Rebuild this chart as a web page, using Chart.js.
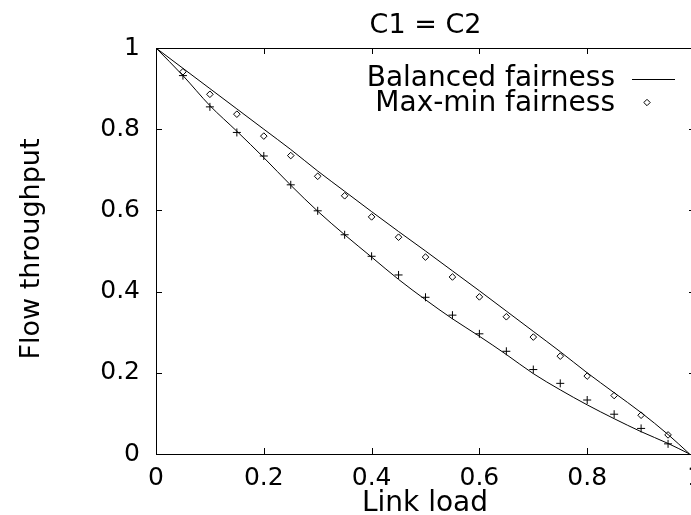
<!DOCTYPE html>
<html><head><meta charset="utf-8">
<script src="https://cdn.jsdelivr.net/npm/chart.js@4/dist/chart.umd.min.js"></script>
<style>html,body{margin:0;padding:0;overflow:hidden;background:#fff;width:691px;height:515px}canvas{display:block}</style>
</head><body>
<canvas id="c" width="700" height="515" style="width:700px;height:515px"></canvas>
<script>
// Link load values for the curves
const lineLoad = [0,0.05,0.1,0.15,0.2,0.25,0.3,0.35,0.4,0.45,0.5,0.55,0.6,0.65,0.7,0.75,0.8,0.85,0.9,0.95,0.99];
// Balanced fairness (upper curve)
const balancedUpper = [1,0.95,0.9,0.85,0.8,0.75,0.697,0.647,0.597,0.548,0.5,0.451,0.402,0.352,0.302,0.252,0.2,0.151,0.102,0.048,0];
// Balanced fairness (lower curve)
const balancedLower = [1,0.932,0.858,0.795,0.73,0.662,0.598,0.54,0.485,0.43,0.38,0.333,0.29,0.245,0.198,0.158,0.121,0.087,0.055,0.026,0];
// Link load values for the markers
const pointLoad = [0.05,0.1,0.15,0.2,0.25,0.3,0.35,0.4,0.45,0.5,0.55,0.6,0.65,0.7,0.75,0.8,0.85,0.9,0.95];
// Max-min fairness (diamonds)
const maxMinUpper = [0.9415,0.886,0.837,0.783,0.735,0.684,0.636,0.584,0.534,0.485,0.436,0.387,0.338,0.288,0.241,0.192,0.144,0.0955,0.047];
// Max-min fairness (plus markers)
const maxMinLower = [0.932,0.855,0.792,0.734,0.663,0.599,0.540,0.487,0.441,0.386,0.342,0.296,0.253,0.208,0.174,0.133,0.098,0.063,0.025];
const xTicks = [0,0.2,0.4,0.6,0.8,1];
const yTicks = [0,0.2,0.4,0.6,0.8,1];
const titleText = 'C1 = C2';
const xTitle = 'Link load';
const yTitle = 'Flow throughput';
const legendLabels = ['Balanced fairness','Max-min fairness'];

const pts = (xs, ys) => xs.map((x,i)=>({x:x,y:ys[i]}));
const FONT = "'DejaVu Sans', sans-serif";

const decor = {
  id:'decor',
  afterDraw(chart){
    const {ctx, chartArea:a, scales:{x:xs,y:ys}} = chart;
    ctx.save();
    ctx.strokeStyle='#000'; ctx.lineWidth=1;
    ctx.strokeRect(a.left+0.5, a.top+0.5, a.right-a.left, a.bottom-a.top);
    ctx.beginPath();
    xTicks.forEach(v=>{const p=Math.round(xs.getPixelForValue(v))+0.5;
      ctx.moveTo(p,a.bottom); ctx.lineTo(p,a.bottom-6);
      ctx.moveTo(p,a.top); ctx.lineTo(p,a.top+6);});
    yTicks.forEach(v=>{const p=Math.round(ys.getPixelForValue(v))+0.5;
      ctx.moveTo(a.left,p); ctx.lineTo(a.left+6,p);
      ctx.moveTo(a.right,p); ctx.lineTo(a.right-6,p);});
    ctx.stroke();
    ctx.fillStyle='#000';
    ctx.font='27px '+FONT; ctx.textAlign='center'; ctx.textBaseline='alphabetic';
    ctx.fillText(titleText, 425.5, 33);
    ctx.font='28px '+FONT;
    ctx.fillText(xTitle, 425, 511);
    ctx.save();
    ctx.translate(39, 249); ctx.rotate(-Math.PI/2);
    ctx.font='27px '+FONT;
    ctx.fillText(yTitle, 0, 0);
    ctx.restore();
    // legend
    ctx.font='28px '+FONT; ctx.textAlign='right';
    ctx.fillText(legendLabels[0], 615, 86);
    ctx.fillText(legendLabels[1], 615, 111);
    ctx.beginPath(); ctx.moveTo(632,79.5); ctx.lineTo(675,79.5); ctx.stroke();
    ctx.beginPath();
    const cx=647, cy=102.5, r=3.2;
    ctx.moveTo(cx,cy-r); ctx.lineTo(cx+r,cy); ctx.lineTo(cx,cy+r); ctx.lineTo(cx-r,cy); ctx.closePath();
    ctx.stroke();
    ctx.restore();
  }
};

new Chart(document.getElementById('c'), {
  type:'scatter',
  data:{datasets:[
    {label:legendLabels[0], data:pts(lineLoad,balancedUpper), showLine:true, borderColor:'#000', borderWidth:1, pointRadius:0, cubicInterpolationMode:'monotone', fill:false},
    {label:'', data:pts(lineLoad,balancedLower), showLine:true, borderColor:'#000', borderWidth:1, pointRadius:0, cubicInterpolationMode:'monotone', fill:false},
    {label:legendLabels[1], data:pts(pointLoad,maxMinUpper), showLine:false, pointStyle:'rectRot', pointRadius:3.3, borderColor:'#000', backgroundColor:'#fff', pointBorderWidth:1},
    {label:'', data:pts(pointLoad,maxMinLower), showLine:false, pointStyle:'cross', pointRadius:4, borderColor:'#000', pointBorderWidth:1}
  ]},
  options:{
    responsive:false, animation:false, devicePixelRatio:1,
    layout:{padding:{left:0,right:4,top:48,bottom:0}},
    plugins:{legend:{display:false}, title:{display:false}, tooltip:{enabled:false}},
    scales:{
      x:{type:'linear', min:0, max:1,
         afterBuildTicks(s){ s.ticks = xTicks.map(v=>({value:v})); },
         afterFit(s){ s.height=61; s.paddingLeft=0; s.paddingRight=0; },
         grid:{display:false, drawTicks:false}, border:{display:false},
         ticks:{color:'#000', font:{family:FONT, size:25}, padding:9, maxRotation:0, autoSkip:false,
                callback:v=>String(+(+v).toFixed(1))}},
      y:{type:'linear', min:0, max:1,
         afterBuildTicks(s){ s.ticks = yTicks.map(v=>({value:v})); },
         afterFit(s){ s.width=156; s.paddingTop=0; s.paddingBottom=0; },
         grid:{display:false, drawTicks:false}, border:{display:false},
         ticks:{color:'#000', font:{family:FONT, size:25}, padding:16, autoSkip:false,
                callback:v=>String(+(+v).toFixed(1))}}
    }
  },
  plugins:[decor]
});
</script>
</body></html>
